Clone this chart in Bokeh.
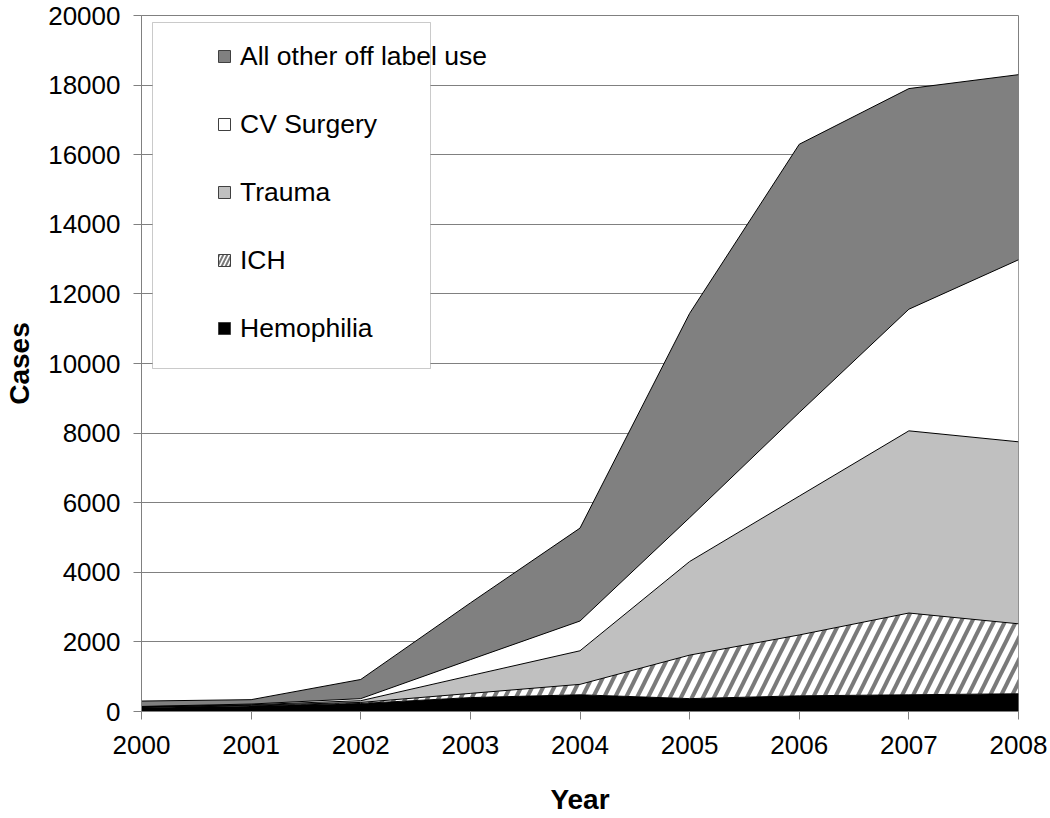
import numpy as np
from bokeh.plotting import figure
from bokeh.models import (ColumnDataSource, Legend, LegendItem, BoxAnnotation,
                          FixedTicker, BasicTickFormatter, Range1d)
from bokeh.transform import stack
from bokeh.embed import file_html
from bokeh.resources import INLINE

# ---- data ----
years = [2000, 2001, 2002, 2003, 2004, 2005, 2006, 2007, 2008]
hemophilia = [115, 160, 230, 400, 480, 370, 450, 480, 510]
ich = [10, 20, 30, 120, 300, 1250, 1750, 2350, 2010]
trauma = [10, 15, 50, 510, 965, 2690, 3990, 5235, 5230]
cv_surgery = [10, 20, 60, 460, 855, 1260, 2400, 3495, 5230]
other_off_label = [155, 125, 550, 1630, 2670, 5870, 7710, 6340, 5320]

series_names = ["Hemophilia", "ICH", "Trauma", "CV Surgery", "All other off label use"]
y_ticks = list(range(0, 20001, 2000))

src = ColumnDataSource(dict(year=years,
                            hemophilia=hemophilia, ich=ich, trauma=trauma,
                            cv=cv_surgery, other=other_off_label))
cols = ["hemophilia", "ich", "trauma", "cv", "other"]
labels = dict(zip(cols, series_names))

FONT = "Liberation Sans"
GRID = "#808080"

p = figure(width=1050, height=818, output_backend="svg", toolbar_location=None,
           x_range=Range1d(2000, 2008), y_range=Range1d(0, 20000),
           min_border_left=141, min_border_right=32, min_border_top=15,
           min_border_bottom=107)
p.outline_line_color = GRID
p.outline_line_width = 1
p.background_fill_color = "white"

styles = {
    "hemophilia": dict(fill_color="black"),
    "ich": dict(fill_color="white", hatch_pattern="/", hatch_color="#7a7a7a",
                hatch_scale=22, hatch_weight=4),
    "trauma": dict(fill_color="#c0c0c0"),
    "cv": dict(fill_color="white"),
    "other": dict(fill_color="#808080"),
}

for i, c in enumerate(cols):
    lower = stack(*cols[:i]) if i > 0 else stack()
    upper = stack(*cols[:i + 1])
    p.varea(x="year", y1=lower, y2=upper, source=src, **styles[c])
for i, c in enumerate(cols):
    p.line(x="year", y=stack(*cols[:i + 1]), source=src, line_color="black",
           line_width=1)

# axes
p.xaxis.ticker = FixedTicker(ticks=years)
p.yaxis.ticker = FixedTicker(ticks=y_ticks)
p.yaxis.formatter = BasicTickFormatter(use_scientific=False)
for ax in (p.xaxis, p.yaxis):
    ax.axis_line_color = GRID
    ax.major_tick_line_color = GRID
    ax.minor_tick_line_color = None
    ax.major_tick_in = 0
    ax.major_tick_out = 8
    ax.major_label_text_font = FONT
    ax.major_label_text_font_size = "26px"
    ax.major_label_text_color = "black"
    ax.axis_label_text_font = FONT
    ax.axis_label_text_font_size = "28px"
    ax.axis_label_text_font_style = "bold"
    ax.axis_label_text_color = "black"
p.xaxis.axis_label = "Year"
p.yaxis.axis_label = "Cases"
p.yaxis.major_label_standoff = 13
p.xaxis.major_label_standoff = 16
p.xaxis.axis_label_standoff = 27
p.yaxis.axis_label_standoff = 10

p.xgrid.grid_line_color = None
p.ygrid.grid_line_color = GRID
p.ygrid.grid_line_width = 1

# legend box
box = BoxAnnotation(left=152, right=430, top=22, bottom=368,
                    left_units="canvas", right_units="canvas",
                    top_units="canvas", bottom_units="canvas",
                    fill_color="white", fill_alpha=1.0,
                    line_color="#505050", line_width=1)
p.add_layout(box)

# legend proxies (no visible data)
items = []
for c in ["other", "cv", "trauma", "ich", "hemophilia"]:
    st = dict(styles[c])
    if c == "ich":
        st["hatch_scale"] = 8
        st["hatch_weight"] = 2
    r = p.scatter(x=[np.nan], y=[np.nan], marker="square", size=12,
                  line_color="#404040", line_width=1, **st)
    items.append(LegendItem(label=labels[c], renderers=[r]))

legend = Legend(items=items, location=(68, 349), padding=0, margin=0,
                spacing=0, label_height=68, glyph_height=30, glyph_width=30,
                label_standoff=1, background_fill_alpha=0, border_line_alpha=0,
                label_text_font=FONT, label_text_font_size="26.5px",
                label_text_color="black")
p.add_layout(legend)

open("out.html", "w").write(file_html(p, INLINE))
